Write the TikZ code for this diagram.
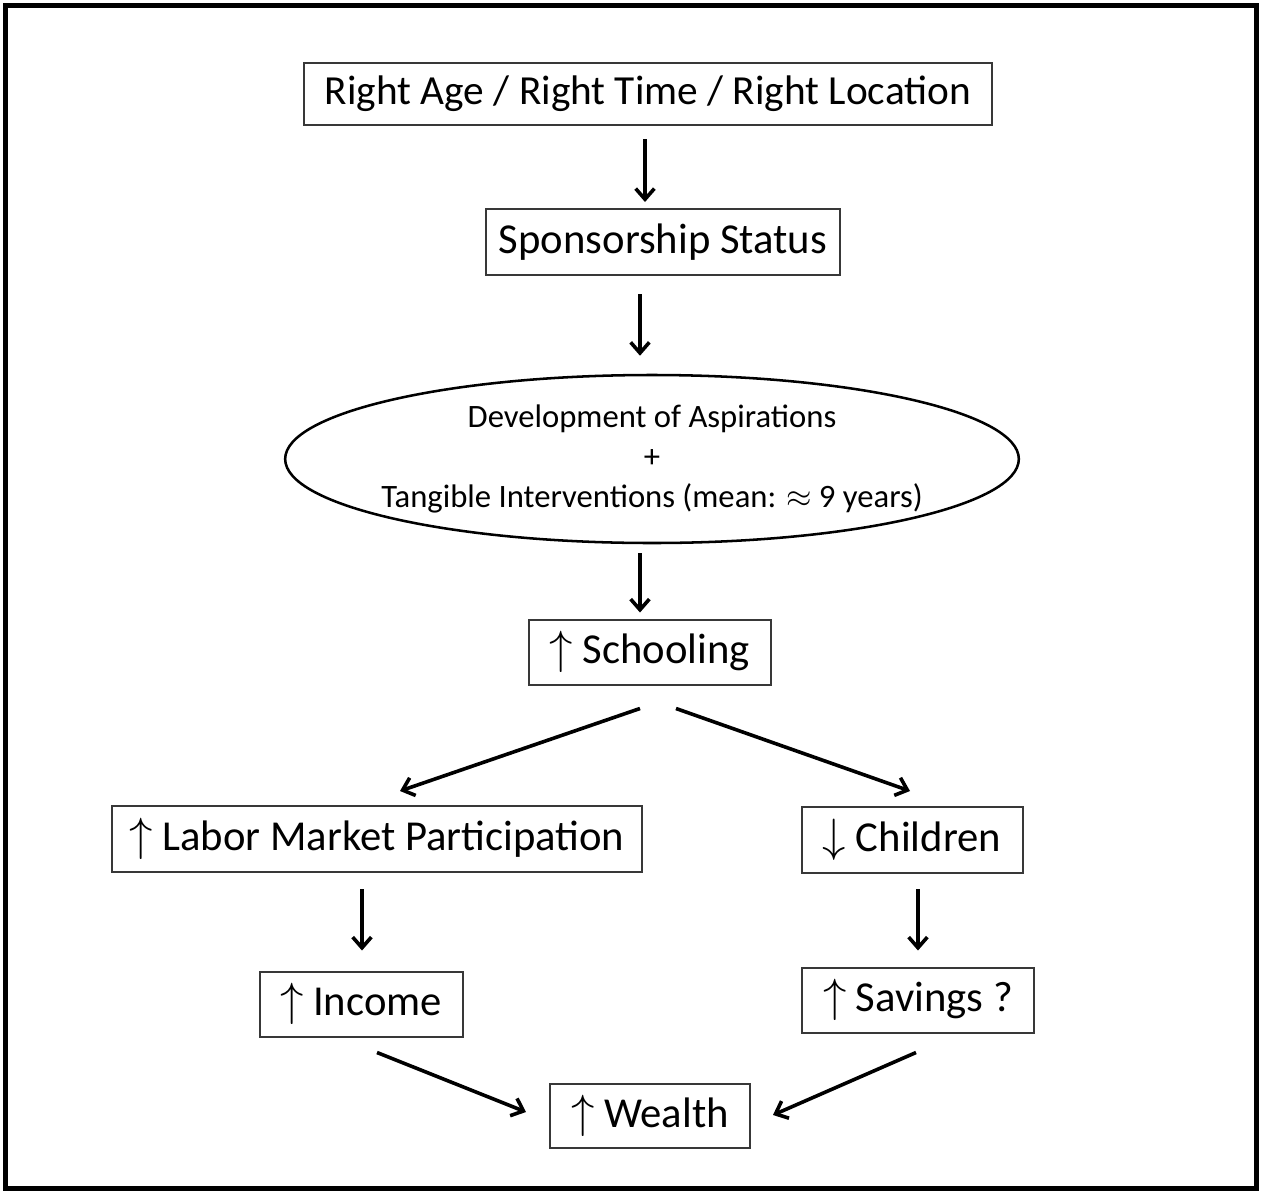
\RequirePackage{fix-cm}
\documentclass[tikz,border=0pt]{standalone}
\usepackage{fontspec}
\setmainfont{Carlito}
\usepackage{amsmath,amssymb}
\usepackage{tikz}
\usetikzlibrary{arrows.meta,calc,shapes.geometric}
\definecolor{edge}{gray}{0.22}
\newcommand{\upa}{{\fontsize{35}{35}\selectfont$\uparrow$}}
\newcommand{\downa}{{\fontsize{35}{35}\selectfont$\downarrow$}}

\begin{document}
\begin{tikzpicture}[x=0.75pt,y=-0.75pt,
  stage/.style={draw=edge,line width=1.5pt,inner sep=0pt,minimum height=49.5pt,font=\fontsize{32}{38}\selectfont},
  arr/.style={line width=2.7pt,-{Straight Barb[length=8pt,width=14pt]}}]
\useasboundingbox (0,0) rectangle (1261,1193);
\draw[line width=3.75pt] (5.5,5.5) rectangle (1256.5,1188.5);
\node[stage,minimum width=516pt,minimum height=46.5pt,font=\fontsize{31}{37}\selectfont] (place) at (648,94) {Right Age / Right Time / Right Location};
\node[stage,minimum width=265.5pt] (spons) at (663,242) {Sponsorship Status};
\node[draw=black,line width=1.9pt,ellipse,inner xsep=-8.5pt,inner ysep=0pt,minimum width=548pt,minimum height=126pt,align=center,
  font=\fontsize{24.5}{30}\selectfont] (asp) at (652,459)
  {Development of Aspirations\\ +\\ Tangible Interventions (mean: $\approx$ 9 years)};
\node[stage,minimum width=181.5pt,minimum height=48.75pt] (school) at (650,652) {\upa\ Schooling};
\node[stage,minimum width=397.5pt] (labor) at (377,839) {\upa\ Labor Market Participation};
\node[stage,minimum width=165.75pt] (child) at (912,840) {\downa\ Children};
\node[stage,minimum width=152.25pt,minimum height=48.75pt] (income) at (361,1004) {\upa\ Income};
\node[stage,minimum width=174pt,minimum height=48.75pt] (save) at (918,1000) {\upa\ Savings ?};
\node[stage,minimum width=150pt,minimum height=48pt] (wealth) at (650,1116) {\upa\ Wealth};
\draw[arr] ($(place.south)+(-3,13)$) -- ($(spons.north)+(-18,-6)$);
\draw[arr] ($(spons.south)+(-23,18)$) -- ($(asp.north)+(-12,-18)$);
\draw[arr] ($(asp.south)+(-12,9)$) -- ($(school.north)+(-10,-6)$);
\draw[arr] ($(school.south)+(-10,23)$) -- ($(labor.north)+(23,-14)$);
\draw[arr] ($(school.south)+(26,23)$) -- ($(child.north)+(-2,-15)$);
\draw[arr] ($(labor.south)+(-15,16)$) -- ($(income.north)+(1,-20)$);
\draw[arr] ($(child.south)+(6,15)$) -- ($(save.north)+(0,-16)$);
\draw[arr] ($(income.south)+(16,15)$) -- ($(wealth.west)+(-23,-4)$);
\draw[arr] ($(save.south)+(-2,19)$) -- ($(wealth.east)+(22,-1)$);
\end{tikzpicture}
\end{document}
